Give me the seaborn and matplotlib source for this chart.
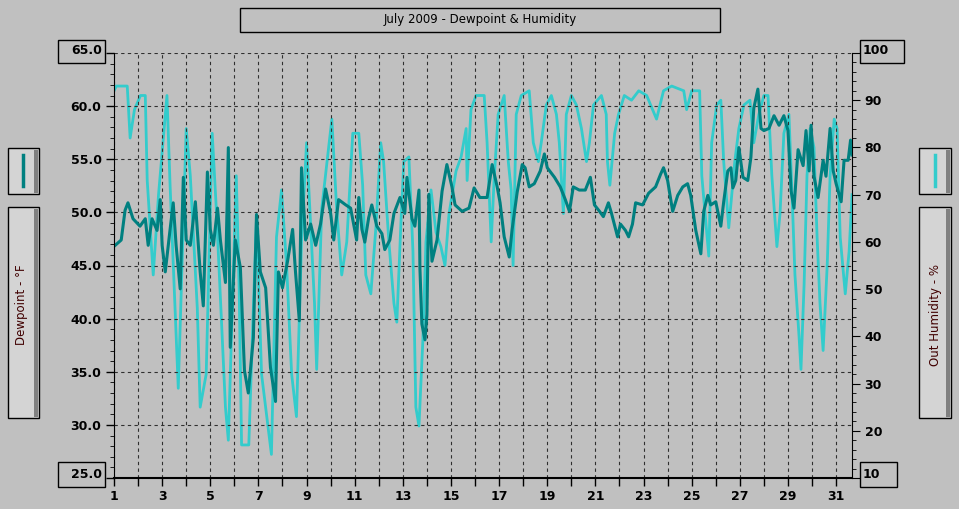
import matplotlib
matplotlib.use("Agg")
import matplotlib.pyplot as plt
import numpy as np
import pandas as pd
import seaborn as sns
from matplotlib.patches import Rectangle

# humidity readings (day of month, percent)
hum_days = [1.0,1.1,1.55,1.67,1.85,2.1,2.3,2.38,2.63,2.85,3.2,3.33,3.67,4.0,4.17,4.46,4.58,4.83,5.08,5.25,5.63,5.75,6.08,6.2,6.3,6.6,6.79,6.92,7.13,7.54,7.75,7.96,8.17,8.38,8.58,8.79,9.0,9.33,9.42,9.63,10.05,10.25,10.46,10.67,10.92,11.17,11.33,11.46,11.67,11.88,12.08,12.2,12.42,12.63,12.75,12.92,13.04,13.25,13.42,13.54,13.67,13.83,13.96,14.17,14.38,14.58,14.75,14.92,15.21,15.42,15.63,15.67,15.83,16.04,16.38,16.5,16.67,16.79,16.96,17.21,17.38,17.5,17.58,17.71,17.92,18.25,18.42,18.63,18.75,18.96,19.17,19.38,19.5,19.67,19.79,20.0,20.21,20.42,20.63,20.75,20.92,21.25,21.45,21.5,21.6,21.8,21.96,22.2,22.5,22.8,23.13,23.54,23.83,24.17,24.67,24.79,25.0,25.33,25.42,25.54,25.71,25.83,26.04,26.21,26.33,26.54,26.79,26.96,27.17,27.42,27.58,27.79,28.0,28.17,28.33,28.54,28.67,28.83,29.04,29.17,29.29,29.46,29.54,29.67,29.79,29.92,30.08,30.21,30.33,30.46,30.63,30.75,30.92,31.04,31.17,31.38,31.54,31.66]
hum_vals = [92,93,93,82,88,91,91,73,53,70,91,72,29,84,74,46,25,32,83,67,25,18,74,50,17,17,46,65,32,15,61,71,55,32,23,60,81,47,33,67,86,67,53,60,83,83,72,53,49,63,81,77,60,47,43,64,77,78,58,25,21,39,60,71,62,59,55,66,75,78,84,73,88,91,91,81,60,73,87,91,77,71,55,87,91,92,81,77,81,89,91,87,81,66,87,91,89,84,77,81,89,91,87,77,72,83,87,91,90,92,91,86,92,93,92,88,92,92,74,67,57,81,89,90,77,63,77,84,89,90,81,87,91,91,74,59,66,83,87,70,53,40,33,51,74,84,80,61,47,37,55,74,86,84,61,49,58,70]

# dewpoint readings (day of month, deg F)
dew_days = [1.0,1.3,1.46,1.58,1.79,2.08,2.3,2.42,2.58,2.79,2.92,3.0,3.13,3.33,3.46,3.58,3.75,3.88,4.0,4.17,4.38,4.58,4.71,4.88,5.0,5.13,5.3,5.42,5.63,5.75,5.83,6.04,6.25,6.42,6.58,6.79,6.92,7.08,7.3,7.5,7.71,7.83,8.0,8.21,8.42,8.54,8.7,8.79,8.96,9.17,9.38,9.58,9.79,10.0,10.13,10.33,10.63,10.83,11.08,11.17,11.3,11.42,11.58,11.71,11.92,12.13,12.25,12.46,12.63,12.88,13.08,13.17,13.38,13.5,13.67,13.71,13.79,13.92,14.0,14.08,14.21,14.42,14.63,14.83,15.04,15.17,15.46,15.75,15.96,16.2,16.5,16.71,16.92,17.04,17.21,17.42,17.54,17.75,17.96,18.08,18.25,18.46,18.71,18.88,19.0,19.3,19.54,19.75,19.92,20.08,20.33,20.58,20.79,20.96,21.17,21.33,21.54,21.67,21.92,22.04,22.25,22.38,22.54,22.67,22.96,23.21,23.5,23.71,23.83,24.0,24.21,24.42,24.63,24.83,24.96,25.17,25.38,25.5,25.67,25.79,26.0,26.21,26.33,26.5,26.63,26.71,26.83,26.96,27.13,27.33,27.46,27.58,27.75,27.88,28.0,28.21,28.42,28.63,28.83,29.0,29.13,29.25,29.42,29.63,29.75,29.88,29.96,30.08,30.25,30.46,30.58,30.75,30.88,31.0,31.21,31.33,31.5,31.6,31.66]
dew_vals = [46.8,47.4,50.2,50.9,49.4,48.7,49.4,46.9,49.4,48.3,51.2,46.9,44.4,48.4,50.9,46.9,42.8,53.3,47.4,46.9,51.0,44.4,41.2,53.8,48.4,46.9,50.4,47.4,43.4,56.1,37.3,47.4,44.8,35.1,33.0,38.2,49.8,44.4,42.9,35.4,32.2,44.4,42.9,45.4,48.4,44.4,39.8,54.2,47.4,48.9,46.9,48.9,52.2,49.9,47.4,51.2,50.7,50.4,47.4,51.4,48.4,47.2,49.5,50.7,48.7,48.0,46.5,47.4,49.9,51.4,49.9,53.3,49.4,48.7,52.1,44.7,39.5,38.0,40.4,51.7,45.4,47.4,52.0,54.5,52.4,50.7,50.1,50.4,52.3,51.4,51.4,54.5,52.4,50.9,47.7,45.8,48.4,51.9,54.5,54.2,52.4,52.7,53.9,55.5,54.2,53.3,52.4,51.2,50.1,52.4,52.1,52.1,53.3,50.7,50.1,49.6,50.9,49.9,47.7,48.9,48.3,47.7,48.9,50.9,50.7,51.8,52.4,53.6,54.2,53.0,50.1,51.6,52.4,52.7,51.6,48.3,46.1,50.1,51.6,50.7,51.0,48.7,51.0,53.9,54.2,52.3,53.0,56.1,53.3,53.0,55.2,59.8,61.6,57.9,57.7,57.9,59.1,58.2,59.1,57.7,52.0,50.4,55.9,54.4,57.7,53.9,58.2,53.4,51.4,54.9,53.4,57.9,53.9,52.7,51.0,54.9,54.9,56.8,55.4]

W, H = 959, 509
BG = "#c0c0c0"
TEAL = "#008080"
CYAN = "#33cccc"

def fx(x):
    return x / W

def fy(y):
    return 1 - y / H

fig = plt.figure(figsize=(W / 100, H / 100), dpi=100, facecolor=BG)
ax = fig.add_axes([fx(114), fy(478), fx(852 - 114), (478 - 53) / H])
ax2 = ax.twinx()

hum = pd.DataFrame({"day": hum_days, "humidity": hum_vals})
dew = pd.DataFrame({"day": dew_days, "dewpoint": dew_vals})

sns.lineplot(data=hum, x="day", y="humidity", ax=ax2, color=CYAN, lw=2)
sns.lineplot(data=dew, x="day", y="dewpoint", ax=ax, color=TEAL, lw=2.2)
# dewpoint drawn above humidity
ax.set_zorder(2)
ax.patch.set_visible(False)
ax2.set_zorder(1)
ax2.patch.set_facecolor(BG)

ax.set_xlim(1, 31.66)
ax.set_ylim(25, 65)
ax2.set_ylim(10, 100)

days = list(range(1, 32))
ax.set_xticks(days)
ax.set_xticklabels([str(d) if d % 2 == 1 else "" for d in days], fontweight="bold", fontsize=9)
ax.set_yticks(np.arange(25, 66, 5))
ax.set_yticklabels(["" if v in (25, 65) else f"{v:.1f}" for v in range(25, 66, 5)], fontweight="bold", fontsize=9)
ax.set_yticks(np.arange(25, 66, 1), minor=True)
ax2.set_yticks(np.arange(10, 101, 10))
ax2.set_yticklabels(["" if v in (10, 100) else str(v) for v in range(10, 101, 10)], fontweight="bold", fontsize=9)
ax2.set_yticks(np.arange(10, 101, 2), minor=True)
ax.set_xlabel("")
ax.set_ylabel("")
ax2.set_ylabel("")
ax.tick_params(axis="both", which="major", length=6, width=1, direction="out", colors="black", pad=3)
ax.tick_params(axis="y", which="minor", length=3, direction="out")
ax2.tick_params(axis="y", which="major", length=6, direction="out", pad=3)
ax2.tick_params(axis="y", which="minor", length=3, direction="out")
ax.grid(True, which="major", color="#303030", ls=(0, (3, 3)), lw=0.8)
for a in (ax, ax2):
    a.spines["top"].set_visible(False)
ax.spines["right"].set_visible(False)
ax2.spines["left"].set_visible(False)
ax.spines["bottom"].set_linewidth(1.5)
ax2.spines["bottom"].set_visible(False)

def box(x0, y0, x1, y1, face=BG, shadow=False):
    fig.add_artist(Rectangle((fx(x0), fy(y1)), fx(x1 - x0), (y1 - y0) / H,
                             facecolor=face, edgecolor="black", lw=1, transform=fig.transFigure))
    if shadow:
        fig.add_artist(Rectangle((fx(x1 - 5), fy(y1 - 1)), fx(4), (y1 - y0 - 3) / H,
                                 facecolor="#808080", edgecolor="none", transform=fig.transFigure))

# title
box(240, 8, 720, 32)
fig.text(fx(480), fy(19), "July 2009 - Dewpoint & Humidity", ha="center", va="center", fontsize=8.5)

# boxed end labels
box(58, 40, 105, 63)
fig.text(fx(102), fy(51), "65.0", ha="right", va="center", fontweight="bold", fontsize=9)
box(58, 462, 105, 487)
fig.text(fx(102), fy(474), "25.0", ha="right", va="center", fontweight="bold", fontsize=9)
box(860, 40, 904, 63)
fig.text(fx(863), fy(51), "100", ha="left", va="center", fontweight="bold", fontsize=9)
box(860, 462, 897, 487)
fig.text(fx(863), fy(474), "10", ha="left", va="center", fontweight="bold", fontsize=9)

# legend keys and axis titles
box(8, 148, 39, 194, face="#d4d4d4", shadow=True)
fig.add_artist(plt.Line2D([fx(23), fx(23)], [fy(155), fy(186)], color=TEAL, lw=2.5))
box(8, 207, 39, 418, face="#d4d4d4", shadow=True)
fig.text(fx(22), fy(305), "Dewpoint - \u00b0F", rotation=90, ha="center", va="center", fontsize=8.5, color="#400000")

box(919, 148, 951, 194, face="#d4d4d4", shadow=True)
fig.add_artist(plt.Line2D([fx(935), fx(935)], [fy(155), fy(186)], color=CYAN, lw=2.5))
box(919, 207, 951, 418, face="#d4d4d4", shadow=True)
fig.text(fx(935), fy(315), "Out Humidity - %", rotation=90, ha="center", va="center", fontsize=8.5, color="#400000")

fig.savefig("out.png", dpi=100, facecolor=BG)
